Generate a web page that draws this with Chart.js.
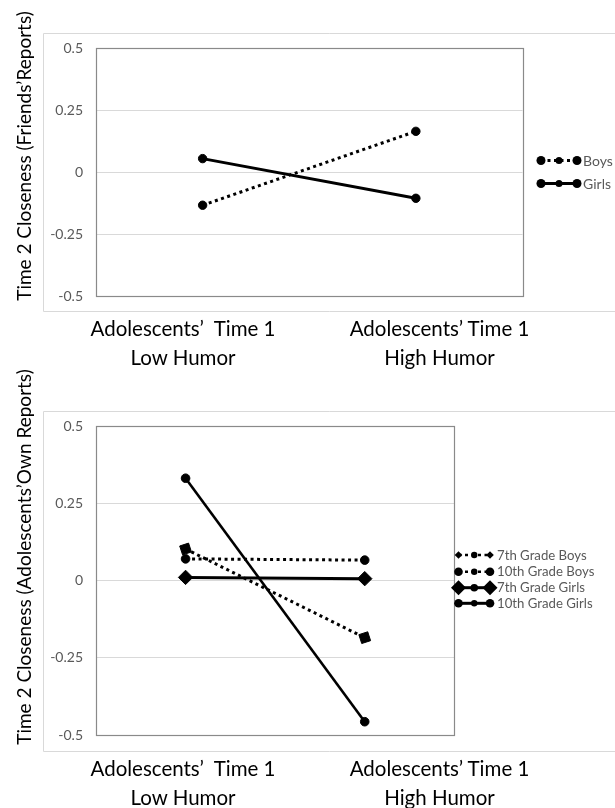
<!DOCTYPE html>
<html><head><meta charset="utf-8">
<script src="https://cdn.jsdelivr.net/npm/chart.js@4.4.1/dist/chart.umd.min.js"></script>
<style>
html,body{margin:0;padding:0;background:#fff;width:615px;height:808px;overflow:hidden;font-family:Lato,'Liberation Sans',sans-serif;}
.wrap{position:absolute;left:0;}
canvas{display:block;}
.xl{position:absolute;width:300px;text-align:center;font-size:20.5px;line-height:29px;color:#000;white-space:pre;}
.yt{position:absolute;white-space:nowrap;font-size:19px;color:#000;transform:translate(-50%,-50%) rotate(-90deg);line-height:1;}
</style></head><body>
<div class="wrap" style="top:0;width:615px;height:320px"><canvas id="c1" width="615" height="320"></canvas></div>
<div class="wrap" style="top:400px;width:615px;height:360px"><canvas id="c2" width="615" height="360"></canvas></div>
<div id="labels"></div>
<script>
// ---- data ----
const categories = ["Adolescents’  Time 1\nLow Humor", "Adolescents’ Time 1\nHigh Humor"];
const yTickValues = [-0.5, -0.25, 0, 0.25, 0.5];
const yTickLabels = ["-0.5", "-0.25", "0", "0.25", "0.5"];
const titleTop = "Time 2 Closeness (Friends’Reports)";
const titleBottom = "Time 2 Closeness (Adolescents’Own Reports)";
const friendsSeries = ["Boys", "Girls"];
const friendsBoys = [-0.134, 0.164];
const friendsGirls = [0.054, -0.106];
const ownSeries = ["7th Grade Boys", "10th Grade Boys", "7th Grade Girls", "10th Grade Girls"];
const own7Boys = [0.102, -0.185];
const own10Boys = [0.070, 0.066];
const own7Girls = [0.010, 0.006];
const own10Girls = [0.331, -0.457];

// ---- html labels ----
const L = document.getElementById('labels');
function addX(text, cx, cy){
  const d = document.createElement('div'); d.className='xl';
  d.textContent = text; d.style.left=(cx-150)+'px'; d.style.top=(cy-14.5)+'px'; L.appendChild(d);
}
function addY(text, cx, cy){
  const d = document.createElement('div'); d.className='yt';
  d.textContent = text; d.style.left=cx+'px'; d.style.top=cy+'px'; L.appendChild(d);
}
addX(categories[0], 183, 328); addX(categories[1], 439.5, 328);
addX(categories[0], 183, 768); addX(categories[1], 439.5, 768);
addY(titleTop, 23, 156); addY(titleBottom, 23, 557);

// ---- helpers ----
function marker(ctx, style, r, x, y, rot){
  ctx.save(); ctx.fillStyle='#000'; ctx.beginPath();
  if(style==='circle'){ ctx.arc(x,y,r,0,Math.PI*2); }
  else { const a0=(rot||0)*Math.PI/180 + (style==='rect'?Math.PI/4:0);
    for(let k=0;k<4;k++){ const a=a0+k*Math.PI/2 - Math.PI/2; const px=x+Math.cos(a)*r, py=y+Math.sin(a)*r; k?ctx.lineTo(px,py):ctx.moveTo(px,py);} ctx.closePath(); }
  ctx.fill(); ctx.restore();
}
const decor = {
  id:'decor',
  beforeDraw(chart, args, o){
    const ctx=chart.ctx; ctx.save(); ctx.strokeStyle='#d9d9d9'; ctx.lineWidth=1;
    ctx.beginPath(); ctx.moveTo(620,o.frameTop); ctx.lineTo(43.5,o.frameTop); ctx.lineTo(43.5,o.frameBottom); ctx.lineTo(620,o.frameBottom); ctx.stroke(); ctx.restore();
  },
  beforeDatasetsDraw(chart){
    const a=chart.chartArea, ctx=chart.ctx; ctx.save(); ctx.strokeStyle='#8a8a8a'; ctx.lineWidth=1.2;
    ctx.strokeRect(Math.round(a.left)+0.5, Math.round(a.top)+0.5, Math.round(a.right-a.left), Math.round(a.bottom-a.top)); ctx.restore();
  },
  afterDraw(chart, args, o){
    const ctx=chart.ctx;
    o.items.forEach((it,i)=>{
      const ds=chart.data.datasets[i]; const y=o.y[i];
      ctx.save(); ctx.strokeStyle='#000'; ctx.lineWidth=it.lw; ctx.setLineDash(ds.borderDash||[]);
      ctx.beginPath(); ctx.moveTo(o.x0,y); ctx.lineTo(o.x1,y); ctx.stroke(); ctx.restore();
      marker(ctx, it.end, it.r, o.x0, y, it.rot); marker(ctx, it.end, it.r, o.x1, y, it.rot);
      marker(ctx, 'circle', it.mr, (o.x0+o.x1)/2, y);
      ctx.save(); ctx.fillStyle='#595959'; ctx.font=o.font; ctx.textBaseline='middle'; ctx.textAlign='left';
      ctx.fillText(ds.label, o.tx, y+0.5); ctx.restore();
    });
  }
};

function yAxis(){
  return { type:'linear', min:-0.5, max:0.5,
    afterBuildTicks(ax){ ax.ticks = yTickValues.map(v=>({value:v})); },
    afterFit(ax){ ax.width = 96; },
    grid:{ color:'#d9d9d9', drawTicks:false, lineWidth:1 },
    border:{ display:false },
    ticks:{ padding:13, color:'#595959', font:{family:'Lato', size:14},
      callback(v){ const i=yTickValues.findIndex(t=>Math.abs(t-v)<1e-9); return i>=0?yTickLabels[i]:''; } }
  };
}
function xAxis(){ return { type:'category', labels:categories, offset:true, display:false }; }
function ds(label, data, o){
  return Object.assign({ label, data, borderColor:'#000', backgroundColor:'#000', pointBackgroundColor:'#000', pointBorderColor:'#000',
    pointBorderWidth:1, fill:false, tension:0, borderCapStyle:'butt' }, o);
}
const dot=[3,3.5];

new Chart(document.getElementById('c1'), {
  type:'line',
  data:{ labels:categories, datasets:[
    ds(friendsSeries[0], friendsBoys, {borderWidth:3, borderDash:dot, pointStyle:'circle', pointRadius:4.2}),
    ds(friendsSeries[1], friendsGirls, {borderWidth:3, pointStyle:'circle', pointRadius:4.2})
  ]},
  options:{ responsive:false, animation:false, devicePixelRatio:1,
    layout:{ padding:{left:0, top:48, right:92.5, bottom:24} },
    scales:{ x:xAxis(), y:yAxis() },
    plugins:{ legend:{display:false}, tooltip:{enabled:false},
      decor:{ frameTop:33.5, frameBottom:311.5, x0:541, x1:577, tx:583, y:[160.5,183.5], font:'14px Lato',
        items:[{end:'circle', r:4.5, mr:3.5, lw:3},{end:'circle', r:4.5, mr:3.5, lw:3}] } }
  },
  plugins:[decor]
});

new Chart(document.getElementById('c2'), {
  type:'line',
  data:{ labels:categories, datasets:[
    ds(ownSeries[0], own7Boys, {borderWidth:3, borderDash:dot, pointStyle:'rect', pointRotation:-18, pointRadius:6.6}),
    ds(ownSeries[1], own10Boys, {borderWidth:3, borderDash:dot, pointStyle:'circle', pointRadius:4.3}),
    ds(ownSeries[2], own7Girls, {borderWidth:3, pointStyle:'rectRot', pointRadius:7.2}),
    ds(ownSeries[3], own10Girls, {borderWidth:2.6, pointStyle:'circle', pointRadius:4.3})
  ]},
  options:{ responsive:false, animation:false, devicePixelRatio:1,
    layout:{ padding:{left:0, top:26, right:160.7, bottom:25} },
    scales:{ x:xAxis(), y:yAxis() },
    plugins:{ legend:{display:false}, tooltip:{enabled:false},
      decor:{ frameTop:11.5, frameBottom:351.5, x0:458.5, x1:490, tx:497, y:[155,171.7,187.7,203.3], font:'13.2px Lato',
        items:[{end:'rectRot', r:3.8, mr:3.2, lw:2.5},{end:'circle', r:4.3, mr:3.2, lw:2.5},{end:'rectRot', r:7.5, mr:3.8, lw:3},{end:'circle', r:4.3, mr:3.2, lw:3}] } }
  },
  plugins:[decor]
});
</script>
</body></html>
